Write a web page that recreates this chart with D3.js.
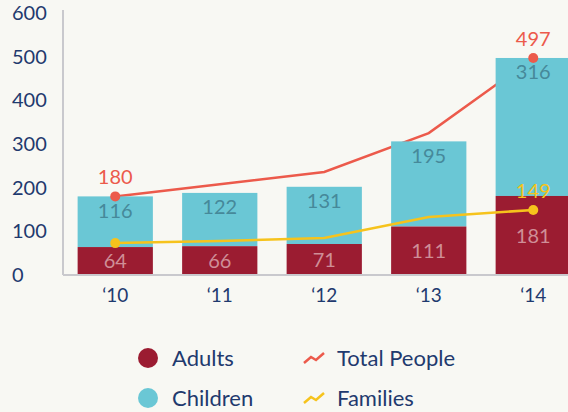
<!DOCTYPE html>
<html>
<head>
<meta charset="utf-8">
<script src="https://cdn.jsdelivr.net/npm/d3@7"></script>
<style>
  html, body { margin: 0; padding: 0; background: #f8f8f3; }
  svg { display: block; font-family: Lato, "Open Sans", sans-serif; }
</style>
</head>
<body>
<svg id="chart" width="568" height="412"></svg>
<script>
const years = ["‘10", "‘11", "‘12", "‘13", "‘14"];
const adults = [64, 66, 71, 111, 181];
const children = [116, 122, 131, 195, 316];
const totalPeople = [180, 208, 236, 325, 497];
const families = [73, 78, 85, 133, 149];
const yTicks = [0, 100, 200, 300, 400, 500, 600];
const totalLabelIdx = [0, 4];
const familyLabelIdx = [4];

const C = {
  bg: "#f8f8f3", adults: "#9b1c31", children: "#6ac7d5",
  total: "#ec5a4b", families: "#f6c31c", axis: "#c9c9cd",
  text: "#1f3a6e", adultLbl: "#cf8e97", childLbl: "#46899a"
};

const svg = d3.select("#chart");
svg.append("rect").attr("width", 568).attr("height", 412).attr("fill", C.bg);

// layers
const lTotal = svg.append("g");
const lBars = svg.append("g");
const lFam = svg.append("g");
const lBarLbl = svg.append("g");
const lDots = svg.append("g");
const lLineLbl = svg.append("g");

const x = d3.scaleBand().domain(years).range([63, 585.5]).paddingInner(0.28).paddingOuter(0.14);
const y = d3.scaleLinear().domain([0, 600]).range([275, 13]);
const cxOf = i => x(years[i]) + x.bandwidth() / 2;
const line = d3.line().x((d, i) => cxOf(i)).y(d => y(d));

function drawLine(layer, data, col, lblIdx) {
  layer.append("path").datum(data).attr("d", line).attr("fill", "none")
    .attr("stroke", col).attr("stroke-width", 2.5);
  [0, data.length - 1].forEach(i => {
    lDots.append("circle").attr("cx", cxOf(i)).attr("cy", y(data[i])).attr("r", 5).attr("fill", col);
  });
  lblIdx.forEach(i => {
    lLineLbl.append("text").attr("x", cxOf(i)).attr("y", y(data[i]) - 12)
      .attr("text-anchor", "middle").attr("font-size", 20).attr("fill", col).text(data[i]);
  });
}

drawLine(lTotal, totalPeople, C.total, totalLabelIdx);
drawLine(lFam, families, C.families, familyLabelIdx);

years.forEach((yr, i) => {
  const cx = x(yr) + x.bandwidth() / 2;
  lBars.append("rect").attr("x", x(yr)).attr("width", x.bandwidth())
    .attr("y", y(adults[i] + children[i])).attr("height", y(adults[i]) - y(adults[i] + children[i]))
    .attr("fill", C.children);
  lBars.append("rect").attr("x", x(yr)).attr("width", x.bandwidth())
    .attr("y", y(adults[i])).attr("height", y(0) - y(adults[i]))
    .attr("fill", C.adults);
  lBarLbl.append("text").attr("x", cx).attr("y", (y(adults[i]) + y(0)) / 2).attr("dy", "0.36em")
    .attr("text-anchor", "middle").attr("font-size", 20).attr("fill", C.adultLbl).text(adults[i]);
  lBarLbl.append("text").attr("x", cx).attr("y", y(adults[i] + children[i]) + 14).attr("dy", "0.36em")
    .attr("text-anchor", "middle").attr("font-size", 20).attr("fill", C.childLbl).text(children[i]);
});

// Axes
const yAxis = svg.append("g").attr("transform", "translate(63,0)")
  .call(d3.axisLeft(y).tickValues(yTicks).tickSize(0).tickFormat(d3.format("d")));
yAxis.select(".domain").attr("stroke", C.axis).attr("stroke-width", 2).attr("d", "M0,10V275");
yAxis.selectAll("text").attr("x", -51).attr("text-anchor", "start")
  .attr("font-size", 20).attr("font-family", "Lato, sans-serif").attr("fill", C.text);

const xAxis = svg.append("g").attr("transform", "translate(0,275)")
  .call(d3.axisBottom(x).tickSize(0).tickPadding(14));
xAxis.select(".domain").attr("stroke", C.axis).attr("stroke-width", 2).attr("d", "M63,0H568");
xAxis.selectAll("text").attr("font-size", 19).attr("font-family", "Lato, sans-serif").attr("fill", C.text);

// Legend
const legend = svg.append("g");
const legItems = [
  { label: "Adults", type: "dot", color: C.adults, x: 148, y: 358 },
  { label: "Children", type: "dot", color: C.children, x: 148, y: 398 },
  { label: "Total People", type: "line", color: C.total, x: 304, y: 358 },
  { label: "Families", type: "line", color: C.families, x: 304, y: 398 }
];
legItems.forEach(it => {
  if (it.type === "dot") {
    legend.append("circle").attr("cx", it.x).attr("cy", it.y).attr("r", 10).attr("fill", it.color);
    legend.append("text").attr("x", it.x + 24).attr("y", it.y).attr("dy", "0.36em")
      .attr("font-size", 22).attr("fill", C.text).text(it.label);
  } else {
    legend.append("path")
      .attr("d", `M${it.x},${it.y + 5}L${it.x + 7},${it.y - 1}L${it.x + 12},${it.y + 2}L${it.x + 20},${it.y - 5}`)
      .attr("fill", "none").attr("stroke", it.color).attr("stroke-width", 2.5);
    legend.append("text").attr("x", it.x + 33).attr("y", it.y).attr("dy", "0.36em")
      .attr("font-size", 22).attr("fill", C.text).text(it.label);
  }
});
</script>
</body>
</html>
